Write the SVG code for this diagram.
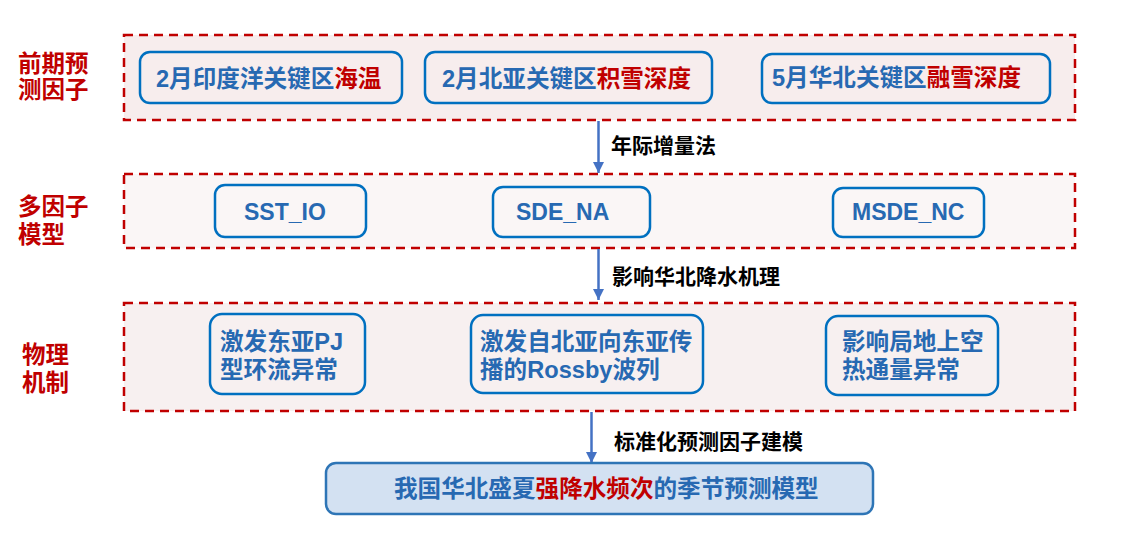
<svg xmlns="http://www.w3.org/2000/svg" width="1137" height="547" viewBox="0 0 1137 547">
<defs>
<style>
text{font-family:"Liberation Sans","Noto Sans CJK SC",sans-serif;font-weight:bold}
.frame{stroke:#c00000;stroke-width:2.5;stroke-dasharray:9 6}
.side{fill:#c00000;font-size:23.5px}
.node{fill:none;stroke:#0070c0;stroke-width:2.5}
.nt{fill:#2769b2;font-size:23.6px}
.lt{font-size:23px}
.red{fill:#c00000}
.lab{fill:#000;font-size:21px}
.conn{stroke:#4472c4;stroke-width:2.5;fill:none}
</style>
<marker id="ah" viewBox="0 0 10 10" refX="10" refY="5" markerWidth="4.4" markerHeight="5" orient="auto" markerUnits="strokeWidth">
<path d="M0,0 L10,5 L0,10 z" fill="#4472c4"/>
</marker>
</defs>
<rect width="1137" height="547" fill="#fff"/>

<g id="stage1">
<rect class="frame" x="124" y="35" width="951" height="85" fill="#f7eded"/>
<text class="side" x="18" y="72">前期预</text>
<text class="side" x="18" y="98">测因子</text>
</g>
<g id="stage2">
<rect class="frame" x="124" y="174" width="951" height="74" fill="#faf6f6"/>
<text class="side" x="18" y="215">多因子</text>
<text class="side" x="18" y="243">模型</text>
</g>
<g id="stage3">
<rect class="frame" x="124" y="303" width="951" height="108" fill="#f7f0f0"/>
<text class="side" x="22" y="363">物理</text>
<text class="side" x="22" y="391">机制</text>
</g>

<g id="connectors">
<line class="conn" x1="598.5" y1="121" x2="598.5" y2="173" marker-end="url(#ah)"/>
<line class="conn" x1="598.5" y1="249" x2="598.5" y2="300" marker-end="url(#ah)"/>
<line class="conn" x1="591.5" y1="412" x2="591.5" y2="463" marker-end="url(#ah)"/>
<text class="lab" x="611" y="153">年际增量法</text>
<text class="lab" x="612" y="284">影响华北降水机理</text>
<text class="lab" x="614" y="449">标准化预测因子建模</text>
</g>

<g id="n-sst">
<rect class="node" x="140" y="52" width="262" height="51" rx="10"/>
<text class="nt" x="156" y="87">2月印度洋关键区<tspan class="red">海温</tspan></text>
</g>
<g id="n-sde">
<rect class="node" x="425" y="52" width="287" height="51" rx="10"/>
<text class="nt" x="442" y="87">2月北亚关键区<tspan class="red">积雪深度</tspan></text>
</g>
<g id="n-msde">
<rect class="node" x="762" y="54" width="288" height="49" rx="10"/>
<text class="nt" x="772" y="86">5月华北关键区<tspan class="red">融雪深度</tspan></text>
</g>

<g id="n-sst-io">
<rect class="node" x="215" y="185" width="151" height="52" rx="10"/>
<text class="nt lt" x="244" y="220">SST_IO</text>
</g>
<g id="n-sde-na">
<rect class="node" x="493" y="187" width="157" height="50" rx="10"/>
<text class="nt lt" x="516" y="220">SDE_NA</text>
</g>
<g id="n-msde-nc">
<rect class="node" x="833" y="188" width="151" height="49" rx="10"/>
<text class="nt lt" x="852" y="220">MSDE_NC</text>
</g>

<g id="n-pj">
<rect class="node" x="210" y="314" width="155" height="80" rx="12"/>
<text class="nt" x="220" y="350">激发东亚PJ</text>
<text class="nt" x="220" y="378">型环流异常</text>
</g>
<g id="n-rossby">
<rect class="node" x="471" y="315" width="232" height="78" rx="12"/>
<text class="nt" x="480" y="350">激发自北亚向东亚传</text>
<text class="nt" x="480" y="378">播的Rossby波列</text>
</g>
<g id="n-heat">
<rect class="node" x="826" y="316" width="172" height="79" rx="12"/>
<text class="nt" x="842" y="350">影响局地上空</text>
<text class="nt" x="842" y="378">热通量异常</text>
</g>

<g id="n-model">
<rect x="326" y="463" width="547" height="51" rx="10" fill="#d3e1f2" stroke="#2e75b6" stroke-width="2.5"/>
<text class="nt" x="394" y="497">我国华北盛夏<tspan class="red">强降水频次</tspan>的季节预测模型</text>
</g>
</svg>
